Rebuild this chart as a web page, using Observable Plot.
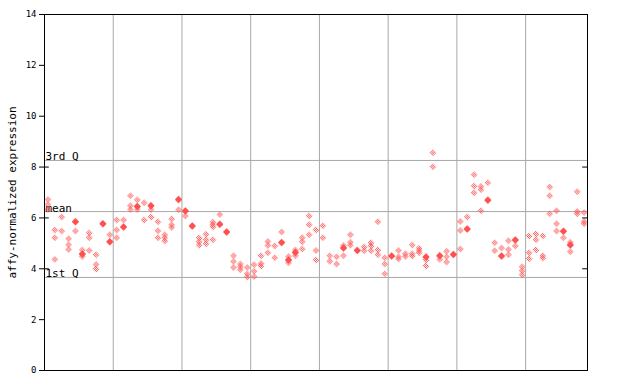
<!DOCTYPE html>
<html><head><meta charset="utf-8">
<script src="https://cdn.jsdelivr.net/npm/d3@7"></script>
<script src="https://cdn.jsdelivr.net/npm/@observablehq/plot@0.6"></script>
<style>body{margin:0;background:#fff}#chart svg{display:block}</style>
</head><body><div id="chart"></div>
<script>
const groupSizes = [10,10,10,10,10,10,10,9];
const sampleValues = [
  [6.72,6.53,6.33],[5.53,5.22,4.37],[6.04,5.49],[5.18,4.95,4.76],[5.87,5.83,5.49],
  [4.74,4.6,4.56,4.48],[5.41,5.22,4.72],[4.55,4.17,3.99],[5.79,5.75],[5.34,5.08,5.04],
  [5.92,5.53,5.22],[5.92,5.66,5.62],[6.87,6.48,6.33],[6.71,6.47,6.43,6.33],[6.6,5.92],
  [6.5,6.46,6.33,6.04],[5.85,5.5,5.22],[5.34,5.22,5.09],[5.96,5.73,5.62],[6.74,6.7,6.32],
  [6.29,6.25,6.08],[5.7,5.66],[5.21,5.06,4.93],[5.36,5.14,4.98],[5.83,5.73,5.64,5.14],
  [6.13,5.77,5.73],[5.47,5.43],[4.51,4.29,4.05],[4.19,4.08,3.96],[4.05,3.8,3.68],
  [4.16,3.9,3.7],[4.51,4.21,4.11],[5.07,4.92,4.63],[4.9,4.43],[5.45,5.05,5.01],
  [4.48,4.37,4.33,4.24],[4.74,4.66,4.62,4.51],[5.22,5.06,4.78],[6.08,5.73,5.34],[5.53,4.72,4.35],
  [5.69,5.22],[4.51,4.3],[4.47,4.19],[4.92,4.84,4.8,4.51],[5.34,5.04,4.93],
  [4.74,4.7],[4.86,4.71],[5.02,4.9,4.71],[5.85,4.74,4.55],[4.43,4.19,3.8],
  [4.52,4.48],[4.72,4.47,4.38],[4.59,4.48],[4.94,4.59,4.5],[4.81,4.72,4.63],
  [4.48,4.44,4.35,4.11],[8.56,8.01],[4.53,4.49,4.37],[4.69,4.47,4.27],[4.58,4.54],
  [5.86,5.51,4.78],[6.04,5.58,5.54],[7.7,7.26,6.99],[7.24,7.11,6.28],[7.38,6.72,6.68],
  [5.02,4.71],[4.82,4.52,4.48],[5.1,4.76,4.55],[5.15,5.11,4.9],[4.08,3.92,3.76],
  [5.29,4.63,4.39],[5.37,5.14,4.74],[5.29,4.51,4.42],[7.22,6.87,6.16],[6.28,5.77,5.49],
  [5.5,5.46,5.22],[5.04,4.96,4.92,4.67],[7.03,6.25,6.16],[6.21,5.86,5.77]
];
const statLabels = ["3rd Q","mean","1st Q"];
const statValues = [8.26, 6.25, 3.66];
const yTicks = [0,2,4,6,8,10,12,14];
const innerTicks = [4,6,8];
const yLabel = "affy-normalized expression";

const red = "#ff5050";
const nSamples = sampleValues.length;
const points = sampleValues.flatMap((vals,i)=>vals.map(v=>({sample:i, value:v})));
const solids = [];
sampleValues.forEach((vals,i)=>{
  const s = [...vals].sort((a,b)=>b-a);
  for (let k=0;k<s.length-1;k++) if (s[k]-s[k+1] < 0.065) solids.push({sample:i, value:(s[k]+s[k+1])/2});
});
const boundaries = d3.cumsum(groupSizes).slice(0,-1).map(c=>c-0.5);
const x0 = -0.5, x1 = nSamples-0.5;

const chart = Plot.plot({
  width:640, height:384,
  marginLeft:44, marginRight:53, marginTop:14, marginBottom:14,
  style:{fontFamily:"'DejaVu Sans Mono', monospace", fontSize:"9px", color:"#000", background:"#fff"},
  x:{domain:[x0,x1], axis:null},
  y:{domain:[0,14]},
  marks:[
    Plot.ruleX(boundaries,{stroke:"#a8a8a8", strokeWidth:1}),
    Plot.ruleY(statValues,{stroke:"#a8a8a8", strokeWidth:1}),
    Plot.text(statLabels,{x:x0, y:(d,i)=>statValues[i], text:d=>d, textAnchor:"start", lineAnchor:"bottom", dx:1, dy:0, fontSize:11, fill:"#000"}),
    Plot.dot(points,{x:"sample", y:"value", symbol:"diamond2", r:3.15, fill:"url(#checker)", stroke:"none"}),
    Plot.dot(solids,{x:"sample", y:"value", symbol:"diamond2", r:3.15, fill:red, stroke:"none"}),
    Plot.ruleY(innerTicks,{x1:x0, x2:x0+0.7, stroke:"#000"}),
    Plot.ruleY(innerTicks,{x1:x1-0.7, x2:x1, stroke:"#000"}),
    Plot.axisY({ticks:yTicks, tickSize:5, tickPadding:3, label:null, fontSize:9, stroke:"#000"}),
    Plot.text([yLabel],{frameAnchor:"left", rotate:-90, dx:-32, textAnchor:"middle", fontSize:11, fill:"#000"}),
    Plot.frame({stroke:"#000"})
  ]
});
const ns = "http://www.w3.org/2000/svg";
const defs = document.createElementNS(ns,"defs");
const pat = document.createElementNS(ns,"pattern");
pat.setAttribute("id","checker"); pat.setAttribute("patternUnits","userSpaceOnUse");
pat.setAttribute("width","2"); pat.setAttribute("height","2");
[[0,0],[1,1]].forEach(([px,py])=>{
  const r = document.createElementNS(ns,"rect");
  r.setAttribute("x",px); r.setAttribute("y",py); r.setAttribute("width",1); r.setAttribute("height",1);
  r.setAttribute("fill",red); pat.appendChild(r);
});
defs.appendChild(pat);
chart.insertBefore(defs, chart.firstChild);
document.getElementById("chart").appendChild(chart);
</script>
</body></html>
